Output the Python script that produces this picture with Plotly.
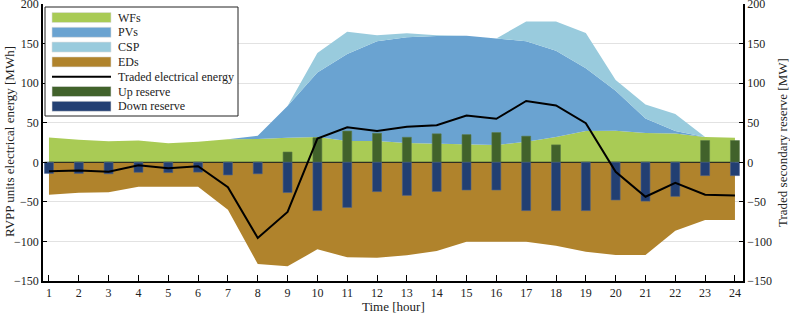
import plotly.graph_objects as go

hours = list(range(1, 25))
wfs = [31.5, 28.5, 26.5, 27.5, 24, 26, 29, 29.5, 31, 32, 27, 27, 24.5, 23.7, 23, 22, 26, 32, 39.5, 40, 37, 36.5, 32, 31]
pvs = [0, 0, 0, 0, 0, 0, 0, 4, 40, 81.5, 110, 126, 133.5, 136, 137, 134.5, 127, 109, 79.5, 50.5, 18.5, 3, 0, 0]
csp = [0, 0, 0, 0, 0, 0, 0, 0, 0, 24.5, 28, 7.5, 5, 1, 0, 0, 25, 37, 44.5, 13.5, 17.5, 21.5, 0, 0]
eds = [-41, -38.5, -37.7, -31, -31, -31, -60, -128.5, -131.5, -110, -120, -120.5, -117.5, -112,
       -100.5, -100.5, -100.5, -105.5, -113, -117.3, -117.3, -86.5, -72.8, -72.8]
traded = [-11.4, -10.5, -12, -3.8, -7.6, -5, -31.5, -95.6, -62.8, 30, 44.3, 39.7, 45, 46.8,
          59, 55, 77.5, 71.8, 49.4, -12, -43.5, -26, -41, -42]
up_res = [0, 0, 0, 0, 0, 0, 0, 0, 13, 31, 39.5, 36.7, 31.6, 36, 35, 37.6, 33, 22, 0, 0, 0, 0, 27.5, 27.5]
down_res = [-14, -14, -14.5, -12.6, -13, -12.4, -16, -14.5, -38.2, -61, -57, -37, -41.8, -36.8,
            -35, -35, -61, -61, -61, -47.6, -49, -43, -16.8, -16.8]
y_ticks = [-150, -100, -50, 0, 50, 100, 150, 200]

legend_names = ["WFs", "PVs", "CSP", "EDs", "Traded electrical energy", "Up reserve", "Down reserve"]
legend_kinds = ["rect", "rect", "rect", "rect", "line", "rect", "rect"]

C_WF = "#a9cb55"
C_PV = "#6aa3d1"
C_CSP = "#99cbdd"
C_ED = "#b0832c"
C_UP = "#41622b"
C_DN = "#223f72"
legend_colors = [C_WF, C_PV, C_CSP, C_ED, "#000000", C_UP, C_DN]

FONT = "Liberation Serif"
W, H = 790, 317
PL, PR, PT, PB = 43, 47, 4, 36
pw, ph = W - PL - PR, H - PT - PB


def fx(px):
    return (px - PL) / pw


def fy(py):
    return (H - PB - py) / ph


fig = go.Figure()
fig.add_trace(go.Scatter(x=hours, y=eds, mode="lines", fill="tozeroy", fillcolor=C_ED,
                         line=dict(width=0, color=C_ED), showlegend=False, hoverinfo="skip"))
fig.add_trace(go.Scatter(x=hours, y=wfs, mode="lines", stackgroup="gen", fillcolor=C_WF,
                         line=dict(width=0, color=C_WF), showlegend=False))
fig.add_trace(go.Scatter(x=hours, y=pvs, mode="lines", stackgroup="gen", fillcolor=C_PV,
                         line=dict(width=0, color=C_PV), showlegend=False))
fig.add_trace(go.Scatter(x=hours, y=csp, mode="lines", stackgroup="gen", fillcolor=C_CSP,
                         line=dict(width=0, color=C_CSP), showlegend=False))
fig.add_trace(go.Scatter(x=hours, y=[0] * len(hours), mode="lines",
                         line=dict(width=1.2, color="#2e2e22"), showlegend=False, hoverinfo="skip"))

fig.add_trace(go.Bar(x=hours, y=up_res, width=0.3, marker=dict(color=C_UP, line=dict(width=0.6, color="#5a7a48")),
                     yaxis="y2", showlegend=False))
fig.add_trace(go.Bar(x=hours, y=down_res, width=0.3, marker=dict(color=C_DN, line=dict(width=0.6, color="#4a6290")),
                     yaxis="y2", showlegend=False))
fig.add_trace(go.Scatter(x=hours, y=traded, mode="lines", line=dict(color="black", width=2),
                         yaxis="y2", showlegend=False))

shapes = []
annotations = []
shapes.append(dict(type="rect", xref="paper", yref="paper", x0=fx(45), x1=fx(238), y0=fy(116), y1=fy(7),
                   line=dict(color="#222", width=1), fillcolor="white", layer="above"))
row_y = [17.5, 32.3, 47.1, 61.9, 76.7, 91.5, 106.3]
for name, kind, col, ry in zip(legend_names, legend_kinds, legend_colors, row_y):
    if kind == "rect":
        shapes.append(dict(type="rect", xref="paper", yref="paper", x0=fx(52), x1=fx(111),
                           y0=fy(ry + 5), y1=fy(ry - 5), line=dict(width=0.6, color="#dddddd"),
                           fillcolor=col, layer="above"))
    else:
        shapes.append(dict(type="line", xref="paper", yref="paper", x0=fx(52), x1=fx(111),
                           y0=fy(ry), y1=fy(ry), line=dict(width=2, color=col), layer="above"))
    annotations.append(dict(xref="paper", yref="paper", x=fx(116), y=fy(ry), text=name, showarrow=False,
                            xanchor="left", yanchor="middle", font=dict(family=FONT, size=12, color="#222")))

title_font = dict(family=FONT, size=13, color="#222")
annotations.append(dict(xref="paper", yref="paper", x=fx(393), y=fy(306.5), text="Time [hour]", showarrow=False,
                        xanchor="center", yanchor="middle", font=title_font))
annotations.append(dict(xref="paper", yref="paper", x=fx(9), y=fy(142), text="RVPP units electrical energy [MWh]",
                        showarrow=False, textangle=-90, xanchor="center", yanchor="middle", font=title_font))
annotations.append(dict(xref="paper", yref="paper", x=fx(782), y=fy(142), text="Traded secondary reserve [MW]",
                        showarrow=False, textangle=-90, xanchor="center", yanchor="middle", font=title_font))

axis_common = dict(showline=True, linecolor="black", linewidth=1.5, ticks="inside", tickcolor="black",
                   tickfont=dict(family=FONT, size=12, color="#222"), zeroline=False, automargin=False,
                   ticklabeloverflow="allow")

fig.update_layout(
    width=W, height=H,
    margin=dict(l=PL, r=PR, t=PT, b=PB, autoexpand=False),
    paper_bgcolor="white", plot_bgcolor="white",
    barmode="relative",
    showlegend=False,
    font=dict(family=FONT, size=12, color="#222"),
    xaxis=dict(range=[0.8, 24.27], tickmode="array", tickvals=hours, ticklen=6, showgrid=False,
               **axis_common),
    yaxis=dict(range=[-150, 200.05], tickmode="array", tickvals=y_ticks, ticklen=4, showgrid=True,
               gridcolor="#e2e2e2", gridwidth=1, **axis_common),
    yaxis2=dict(range=[-150, 200.05], tickmode="array", tickvals=y_ticks, ticklen=4, overlaying="y", side="right",
                showgrid=False, **axis_common),
    shapes=shapes,
    annotations=annotations,
)

fig.write_html("out.html", config={"displayModeBar": False},
               post_script="document.body.style.margin='0';document.body.style.overflow='hidden';")
